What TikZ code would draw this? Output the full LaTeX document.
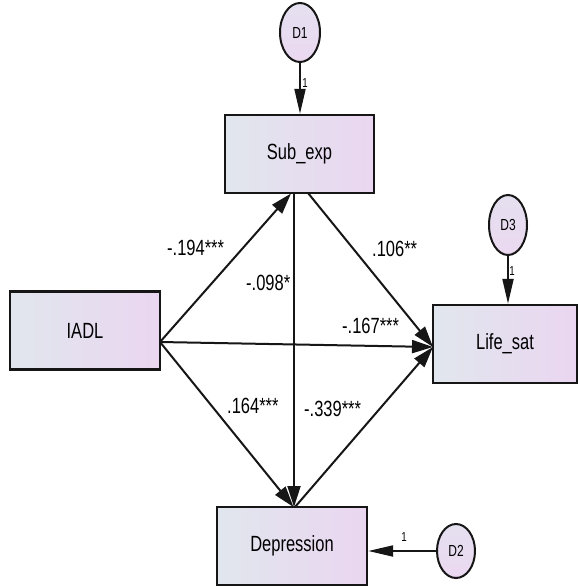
\documentclass[tikz,border=0pt]{standalone}
\usepackage{fontspec}
\setmainfont{Liberation Sans}
\usepackage{graphicx}
\usetikzlibrary{arrows.meta,shapes.geometric,calc}
\definecolor{boxL}{HTML}{E1E6EE}
\definecolor{boxR}{HTML}{EAD6F0}
\definecolor{ellT}{HTML}{E4E0F0}
\definecolor{ellB}{HTML}{EBD8F0}
\definecolor{ink}{HTML}{161616}
\newcommand{\sq}[1]{\scalebox{0.75}[1]{#1}}
\tikzset{
  varbox/.style={draw=ink, line width=2.4pt, left color=boxL, right color=boxR,
    minimum width=#1, minimum height=78pt, inner sep=0pt,
    font=\fontsize{22}{25}\selectfont},
  errell/.style={ellipse, draw=ink, line width=2pt, top color=ellT, bottom color=ellB,
    minimum width=40pt, minimum height=#1, inner sep=0pt,
    font=\fontsize{16}{18}\selectfont},
  path/.style={draw=ink, line width=2pt, -{Triangle[length=21pt,width=13pt]}},
  errpath/.style={draw=ink, line width=2pt, -{Triangle[length=25pt,width=11pt]}},
  coef/.style={font=\fontsize{22}{25}\selectfont, inner sep=0pt},
  one/.style={font=\fontsize{13}{15}\selectfont, inner sep=0pt}
}
\begin{document}
\begin{tikzpicture}[x=1pt,y=-1pt]
\useasboundingbox (0,0) rectangle (580,586);
% boxes
\node[varbox=149pt] (sub) at (299.5,154) {\sq{Sub\_exp}};
\node[varbox=150pt] (iadl) at (85,330.5) {\sq{IADL}};
\node[varbox=144pt] (life) at (505,344) {\sq{Life\_sat}};
\node[varbox=150pt] (dep) at (292,546) {\sq{Depression}};
% error terms
\node[errell=59pt] (d1) at (300,32.5) {\sq{D1}};
\node[errell=60pt, minimum width=38pt] (d3) at (508,225) {\sq{D3}};
\node[errell=54pt, minimum width=38pt] (d2) at (456,551) {\sq{D2}};
% anchor points
\coordinate (iadlout) at (160,342);
\coordinate (subin) at (291,193.5);
\coordinate (subdown) at (294,193);
\coordinate (subright) at (308,193);
\coordinate (lifein) at (433,347);
\coordinate (depin) at (293.5,507);
\coordinate (depout) at (295,507);
% structural paths
\draw[path] (iadlout) -- (subin);
\draw[path] (iadlout) -- (lifein);
\draw[path] (iadlout) -- (depin);
\draw[path] (subdown) -- (subdown |- depin);
\draw[path] (subright) -- (lifein);
\draw[path] (depout) -- (lifein);
% error paths
\draw[errpath] (d1.south) -- (d1.south |- sub.north);
\draw[errpath] (d3.south) -- (d3.south |- life.north);
\draw[errpath] (d2.west) -- (d2.west -| dep.east);
\node[one] (l1) at (305,83) {\sq{1}};
\node[one] (l3) at (512,271) {\sq{1}};
\node[one] (l2) at (404,537) {\sq{1}};
% coefficients
\node[coef, anchor=west] (c1) at (167,248) {\sq{-.194***}};
\node[coef, anchor=west] (c2) at (246,283) {\sq{-.098*}};
\node[coef, anchor=west] (c3) at (372,249) {\sq{.106**}};
\node[coef, anchor=west] (c4) at (342,326) {\sq{-.167***}};
\node[coef, anchor=west] (c5) at (227,406) {\sq{.164***}};
\node[coef, anchor=west] (c6) at (304,409) {\sq{-.339***}};
\end{tikzpicture}
\end{document}
